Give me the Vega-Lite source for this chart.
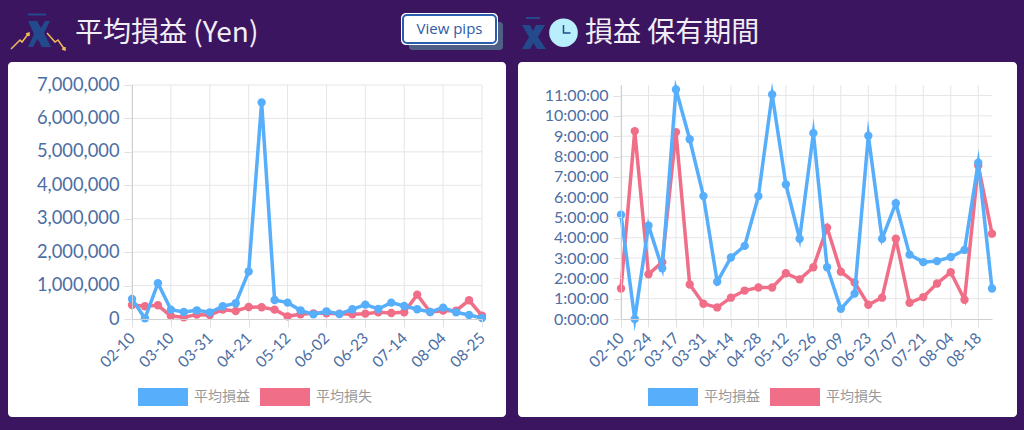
{
  "$schema": "https://vega.github.io/schema/vega-lite/v6.json",
  "background": "#3b1560",
  "padding": {"left": 8, "top": 13, "right": 7, "bottom": 13},
  "spacing": 12,
  "autosize": {"type": "pad"},
  "datasets": {
    "pnl": [
      {"date":"02-10","series":"平均損益","value":600000},{"date":"02-17","series":"平均損益","value":20000},{"date":"02-24","series":"平均損益","value":1070000},{"date":"03-10","series":"平均損益","value":280000},{"date":"03-17","series":"平均損益","value":210000},{"date":"03-24","series":"平均損益","value":260000},{"date":"03-31","series":"平均損益","value":200000},{"date":"04-07","series":"平均損益","value":380000},{"date":"04-14","series":"平均損益","value":470000},{"date":"04-21","series":"平均損益","value":1420000},{"date":"04-28","series":"平均損益","value":6480000},{"date":"05-05","series":"平均損益","value":570000},{"date":"05-12","series":"平均損益","value":490000},{"date":"05-19","series":"平均損益","value":260000},{"date":"05-26","series":"平均損益","value":140000},{"date":"06-02","series":"平均損益","value":230000},{"date":"06-09","series":"平均損益","value":150000},{"date":"06-16","series":"平均損益","value":290000},{"date":"06-23","series":"平均損益","value":430000},{"date":"06-30","series":"平均損益","value":300000},{"date":"07-07","series":"平均損益","value":490000},{"date":"07-14","series":"平均損益","value":390000},{"date":"07-21","series":"平均損益","value":290000},{"date":"07-28","series":"平均損益","value":210000},{"date":"08-04","series":"平均損益","value":340000},{"date":"08-11","series":"平均損益","value":200000},{"date":"08-18","series":"平均損益","value":120000},{"date":"08-25","series":"平均損益","value":30000},
      {"date":"02-10","series":"平均損失","value":420000},{"date":"02-17","series":"平均損失","value":380000},{"date":"02-24","series":"平均損失","value":410000},{"date":"03-10","series":"平均損失","value":90000},{"date":"03-17","series":"平均損失","value":50000},{"date":"03-24","series":"平均損失","value":130000},{"date":"03-31","series":"平均損失","value":120000},{"date":"04-07","series":"平均損失","value":280000},{"date":"04-14","series":"平均損失","value":240000},{"date":"04-21","series":"平均損失","value":360000},{"date":"04-28","series":"平均損失","value":350000},{"date":"05-05","series":"平均損失","value":280000},{"date":"05-12","series":"平均損失","value":80000},{"date":"05-19","series":"平均損失","value":140000},{"date":"05-26","series":"平均損失","value":170000},{"date":"06-02","series":"平均損失","value":170000},{"date":"06-09","series":"平均損失","value":160000},{"date":"06-16","series":"平均損失","value":140000},{"date":"06-23","series":"平均損失","value":160000},{"date":"06-30","series":"平均損失","value":200000},{"date":"07-07","series":"平均損失","value":180000},{"date":"07-14","series":"平均損失","value":200000},{"date":"07-21","series":"平均損失","value":730000},{"date":"07-28","series":"平均損失","value":210000},{"date":"08-04","series":"平均損失","value":250000},{"date":"08-11","series":"平均損失","value":250000},{"date":"08-18","series":"平均損失","value":560000},{"date":"08-25","series":"平均損失","value":100000}
    ],
    "hold": [
      {"date":"02-10","series":"平均損益","hours":5.13},{"date":"02-17","series":"平均損益","hours":0},{"date":"02-24","series":"平均損益","hours":4.6},{"date":"03-10","series":"平均損益","hours":2.5},{"date":"03-17","series":"平均損益","hours":11.3},{"date":"03-24","series":"平均損益","hours":8.85},{"date":"03-31","series":"平均損益","hours":6.05},{"date":"04-07","series":"平均損益","hours":1.83},{"date":"04-14","series":"平均損益","hours":3.03},{"date":"04-21","series":"平均損益","hours":3.6},{"date":"04-28","series":"平均損益","hours":6.05},{"date":"05-05","series":"平均損益","hours":11.05},{"date":"05-12","series":"平均損益","hours":6.62},{"date":"05-19","series":"平均損益","hours":3.95},{"date":"05-26","series":"平均損益","hours":9.15},{"date":"06-02","series":"平均損益","hours":2.55},{"date":"06-09","series":"平均損益","hours":0.5},{"date":"06-16","series":"平均損益","hours":1.25},{"date":"06-23","series":"平均損益","hours":9.02},{"date":"06-30","series":"平均損益","hours":3.95},{"date":"07-07","series":"平均損益","hours":5.7},{"date":"07-14","series":"平均損益","hours":3.17},{"date":"07-21","series":"平均損益","hours":2.8},{"date":"07-28","series":"平均損益","hours":2.85},{"date":"08-04","series":"平均損益","hours":3.05},{"date":"08-11","series":"平均損益","hours":3.4},{"date":"08-18","series":"平均損益","hours":7.7},{"date":"08-25","series":"平均損益","hours":1.5},
      {"date":"02-10","series":"平均損失","hours":1.5},{"date":"02-17","series":"平均損失","hours":9.25},{"date":"02-24","series":"平均損失","hours":2.2},{"date":"03-10","series":"平均損失","hours":2.8},{"date":"03-17","series":"平均損失","hours":9.2},{"date":"03-24","series":"平均損失","hours":1.7},{"date":"03-31","series":"平均損失","hours":0.75},{"date":"04-07","series":"平均損失","hours":0.57},{"date":"04-14","series":"平均損失","hours":1.05},{"date":"04-21","series":"平均損失","hours":1.4},{"date":"04-28","series":"平均損失","hours":1.55},{"date":"05-05","series":"平均損失","hours":1.55},{"date":"05-12","series":"平均損失","hours":2.25},{"date":"05-19","series":"平均損失","hours":1.95},{"date":"05-26","series":"平均損失","hours":2.55},{"date":"06-02","series":"平均損失","hours":4.5},{"date":"06-09","series":"平均損失","hours":2.33},{"date":"06-16","series":"平均損失","hours":1.8},{"date":"06-23","series":"平均損失","hours":0.7},{"date":"06-30","series":"平均損失","hours":1.05},{"date":"07-07","series":"平均損失","hours":3.95},{"date":"07-14","series":"平均損失","hours":0.8},{"date":"07-21","series":"平均損失","hours":1.08},{"date":"07-28","series":"平均損失","hours":1.75},{"date":"08-04","series":"平均損失","hours":2.3},{"date":"08-11","series":"平均損失","hours":0.95},{"date":"08-18","series":"平均損失","hours":7.55},{"date":"08-25","series":"平均損失","hours":4.2}
    ]
  },
  "hconcat": [
    {
      "width": 350,
      "height": 234,
      "layer": [
        {"data": {"values": [{}]}, "mark": {"type": "rect", "fill": "#ffffff", "cornerRadius": 4}, "encoding": {"x": {"value": -124}, "x2": {"value": 374}, "y": {"value": -23}, "y2": {"value": 332}}},
        {"data": {"values": [{"label": "平均損益 (Yen)"}]}, "mark": {"type": "text", "align": "left", "baseline": "middle", "fontSize": 28, "font": "Noto Sans CJK JP", "color": "#f2eef6"}, "encoding": {"text": {"field": "label"}, "x": {"value": -57}, "y": {"value": -51}}},
        {"data": {"values": [{}]}, "mark": {"type": "point", "filled": true, "opacity": 1, "fill": "#224a8c", "size": 4, "shape": "M20,3.5H38V5.5H20ZM20,11H29L33,18L37,11H42L36,23L43,37H34L29.5,29L25,37H20L26,24Z"}, "encoding": {"x": {"value": -124}, "y": {"value": -75}}},
        {"data": {"values": [{}]}, "mark": {"type": "point", "filled": false, "opacity": 1, "stroke": "#f0bb5a", "strokeWidth": 1.5, "size": 4, "shape": "M3,39L12,30L14,32L21,23M18,24L21,23L21,26M39,23L47,32L50,30L57,40M54,39L57,40L57,37"}, "encoding": {"x": {"value": -124}, "y": {"value": -75}}},
        {"data": {"values": [{}]}, "mark": {"type": "rect", "fill": "#4f5f85", "cornerRadius": 3}, "encoding": {"x": {"value": 277}, "x2": {"value": 371}, "y": {"value": -63}, "y2": {"value": -35}}},
        {"data": {"values": [{}]}, "mark": {"type": "rect", "fill": "#ffffff", "cornerRadius": 5}, "encoding": {"x": {"value": 269}, "x2": {"value": 366}, "y": {"value": -72}, "y2": {"value": -40}}},
        {"data": {"values": [{}]}, "mark": {"type": "rect", "fill": "#ffffff", "stroke": "#2a5db0", "strokeWidth": 2, "cornerRadius": 4}, "encoding": {"x": {"value": 271}, "x2": {"value": 364}, "y": {"value": -70}, "y2": {"value": -42}}},
        {"data": {"values": [{"label": "View pips"}]}, "mark": {"type": "text", "font": "Open Sans", "fontSize": 15, "color": "#2f5aa8"}, "encoding": {"text": {"field": "label"}, "x": {"value": 317.5}, "y": {"value": -56}}},
        {
          "data": {"values": [{"date":"02-10"},{"date":"03-10"},{"date":"03-31"},{"date":"04-21"},{"date":"05-12"},{"date":"06-02"},{"date":"06-23"},{"date":"07-14"},{"date":"08-04"},{"date":"08-25"}]},
          "mark": {"type": "rule", "color": "#e6e6e8", "strokeWidth": 1},
          "encoding": {"x": {"field": "date", "type": "ordinal", "scale": {"type": "point", "padding": 0}}}
        },
        {
          "data": {"values": [{"tick":1000000},{"tick":2000000},{"tick":3000000},{"tick":4000000},{"tick":5000000},{"tick":6000000},{"tick":7000000}]},
          "mark": {"type": "rule", "color": "#e6e6e8", "strokeWidth": 1},
          "encoding": {"y": {"field": "tick", "type": "quantitative", "axis": {"values": [0,1000000,2000000,3000000,4000000,5000000,6000000,7000000], "tickCount": 8, "labelOverlap": false}, "scale": {"domain": [0, 7000000], "nice": false}}}
        },
        {
          "data": {"name": "pnl"},
          "encoding": {
            "x": {"field": "date", "type": "ordinal", "title": null, "scale": {"type": "point", "padding": 0}, "axis": {"values": ["02-10","03-10","03-31","04-21","05-12","06-02","06-23","07-14","08-04","08-25"], "labelAngle": -45, "labelFontSize": 15.5, "labelColor": "#4c6ea3", "labelFont": "Lato", "labelPadding": 8, "tickColor": "#e0e0e2", "tickSize": 8, "domainColor": "#cfcfd1", "labelOverlap": false, "grid": false, "zindex": 1}},
            "y": {"field": "value", "type": "quantitative", "title": null, "scale": {"domain": [0, 7000000], "nice": false}, "axis": {"values": [0,1000000,2000000,3000000,4000000,5000000,6000000,7000000], "tickCount": 8, "format": ",d", "labelFontSize": 18.3, "labelColor": "#4c6ea3", "labelFont": "Lato", "labelPadding": 5, "labelOverlap": false, "tickColor": "#e0e0e2", "tickSize": 8, "domainColor": "#cfcfd1", "grid": false, "zindex": 1}},
            "color": {"field": "series", "type": "nominal", "scale": {"domain": ["平均損益","平均損失"], "range": ["#57aefb","#f06e88"]}, "legend": {"title": null, "orient": "none", "direction": "horizontal", "legendX": 6, "legendY": 287, "symbolType": "M-1,-0.36H1V0.36H-1Z", "symbolSize": 2500, "symbolStrokeWidth": 0, "labelFontSize": 14, "labelColor": "#999999", "labelFont": "Noto Sans CJK JP", "labelOffset": 6, "columnPadding": 10}}
          },
          "layer": [
            {"transform": [{"filter": {"field": "series", "equal": "平均損失"}}], "mark": {"type": "line", "strokeWidth": 3.5}},
            {"transform": [{"filter": {"field": "series", "equal": "平均損失"}}], "mark": {"type": "point", "filled": true, "opacity": 1, "size": 70}},
            {"transform": [{"filter": {"field": "series", "equal": "平均損益"}}], "mark": {"type": "line", "strokeWidth": 3.5}},
            {"transform": [{"filter": {"field": "series", "equal": "平均損益"}}], "mark": {"type": "point", "filled": true, "opacity": 1, "size": 70}}
          ]
        }
      ]
    },
    {
      "width": 371,
      "height": 234,
      "layer": [
        {"data": {"values": [{}]}, "mark": {"type": "rect", "fill": "#ffffff", "cornerRadius": 4}, "encoding": {"x": {"value": -103}, "x2": {"value": 396}, "y": {"value": -23}, "y2": {"value": 332}}},
        {"data": {"values": [{}]}, "mark": {"type": "rect", "fill": "#3b1560"}, "encoding": {"x": {"value": 100}, "x2": {"value": 101}, "y": {"value": -72}, "y2": {"value": -71}}},
        {"data": {"values": [{"label": "損益 保有期間"}]}, "mark": {"type": "text", "align": "left", "baseline": "middle", "fontSize": 28, "font": "Noto Sans CJK JP", "color": "#f2eef6"}, "encoding": {"text": {"field": "label"}, "x": {"value": -36}, "y": {"value": -51}}},
        {"data": {"values": [{}]}, "mark": {"type": "point", "filled": true, "opacity": 1, "fill": "#224a8c", "size": 4, "shape": "M4,0H18V2H4ZM0,8H8L11,14L14,8H23L16,20L24,32H15L11.5,26L8,32H0L7,20Z"}, "encoding": {"x": {"value": -99}, "y": {"value": -68}}},
        {"data": {"values": [{}]}, "mark": {"type": "point", "filled": true, "opacity": 1, "fill": "#b9eefc", "size": 818}, "encoding": {"x": {"value": -57.5}, "y": {"value": -52.3}}},
        {"data": {"values": [{}]}, "mark": {"type": "point", "filled": false, "opacity": 1, "stroke": "#224a8c", "strokeWidth": 1.5, "size": 4, "shape": "M0,-8V0H7"}, "encoding": {"x": {"value": -57.5}, "y": {"value": -52}}},
        {
          "data": {"values": [{"date":"02-10"},{"date":"02-24"},{"date":"03-17"},{"date":"03-31"},{"date":"04-14"},{"date":"04-28"},{"date":"05-12"},{"date":"05-26"},{"date":"06-09"},{"date":"06-23"},{"date":"07-07"},{"date":"07-21"},{"date":"08-04"},{"date":"08-18"}]},
          "mark": {"type": "rule", "color": "#e6e6e8", "strokeWidth": 1},
          "encoding": {"x": {"field": "date", "type": "ordinal", "scale": {"type": "point", "padding": 0}}}
        },
        {
          "data": {"values": [{"tick":1},{"tick":2},{"tick":3},{"tick":4},{"tick":5},{"tick":6},{"tick":7},{"tick":8},{"tick":9},{"tick":10},{"tick":11}]},
          "mark": {"type": "rule", "color": "#e6e6e8", "strokeWidth": 1},
          "encoding": {"y": {"field": "tick", "type": "quantitative", "axis": {"values": [0,1,2,3,4,5,6,7,8,9,10,11], "tickCount": 12, "labelOverlap": false}, "scale": {"domain": [0, 11.52], "nice": false}}}
        },
        {
          "data": {"name": "hold"},
          "encoding": {
            "x": {"field": "date", "type": "ordinal", "title": null, "scale": {"type": "point", "padding": 0}, "axis": {"values": ["02-10","02-24","03-17","03-31","04-14","04-28","05-12","05-26","06-09","06-23","07-07","07-21","08-04","08-18"], "labelAngle": -45, "labelFontSize": 15.5, "labelColor": "#4c6ea3", "labelFont": "Lato", "labelPadding": 8, "tickColor": "#e0e0e2", "tickSize": 8, "domainColor": "#cfcfd1", "labelOverlap": false, "grid": false, "zindex": 1}},
            "y": {"field": "hours", "type": "quantitative", "title": null, "scale": {"domain": [0, 11.52], "nice": false}, "axis": {"values": [0,1,2,3,4,5,6,7,8,9,10,11], "tickCount": 12, "labelExpr": "datum.value + ':00:00'", "labelFontSize": 16, "labelColor": "#4c6ea3", "labelFont": "Lato", "labelPadding": 5, "labelOverlap": false, "tickColor": "#e0e0e2", "tickSize": 8, "domainColor": "#cfcfd1", "grid": false, "zindex": 1}},
            "color": {"field": "series", "type": "nominal", "scale": {"domain": ["平均損益","平均損失"], "range": ["#57aefb","#f06e88"]}, "legend": {"title": null, "orient": "none", "direction": "horizontal", "legendX": 27, "legendY": 287, "symbolType": "M-1,-0.36H1V0.36H-1Z", "symbolSize": 2500, "symbolStrokeWidth": 0, "labelFontSize": 14, "labelColor": "#999999", "labelFont": "Noto Sans CJK JP", "labelOffset": 6, "columnPadding": 10}}
          },
          "layer": [
            {"transform": [{"filter": {"field": "series", "equal": "平均損失"}}], "mark": {"type": "line", "strokeWidth": 3.5}},
            {"transform": [{"filter": {"field": "series", "equal": "平均損失"}}], "mark": {"type": "point", "filled": true, "opacity": 1, "size": 70}},
            {"transform": [{"filter": {"field": "series", "equal": "平均損益"}}], "mark": {"type": "line", "strokeWidth": 3.5, "strokeJoin": "miter", "strokeMiterLimit": 12}},
            {"transform": [{"filter": {"field": "series", "equal": "平均損益"}}], "mark": {"type": "point", "filled": true, "opacity": 1, "size": 70}}
          ]
        }
      ]
    }
  ],
  "resolve": {"scale": {"color": "independent", "x": "independent", "y": "independent"}},
  "config": {"view": {"stroke": null}}
}
